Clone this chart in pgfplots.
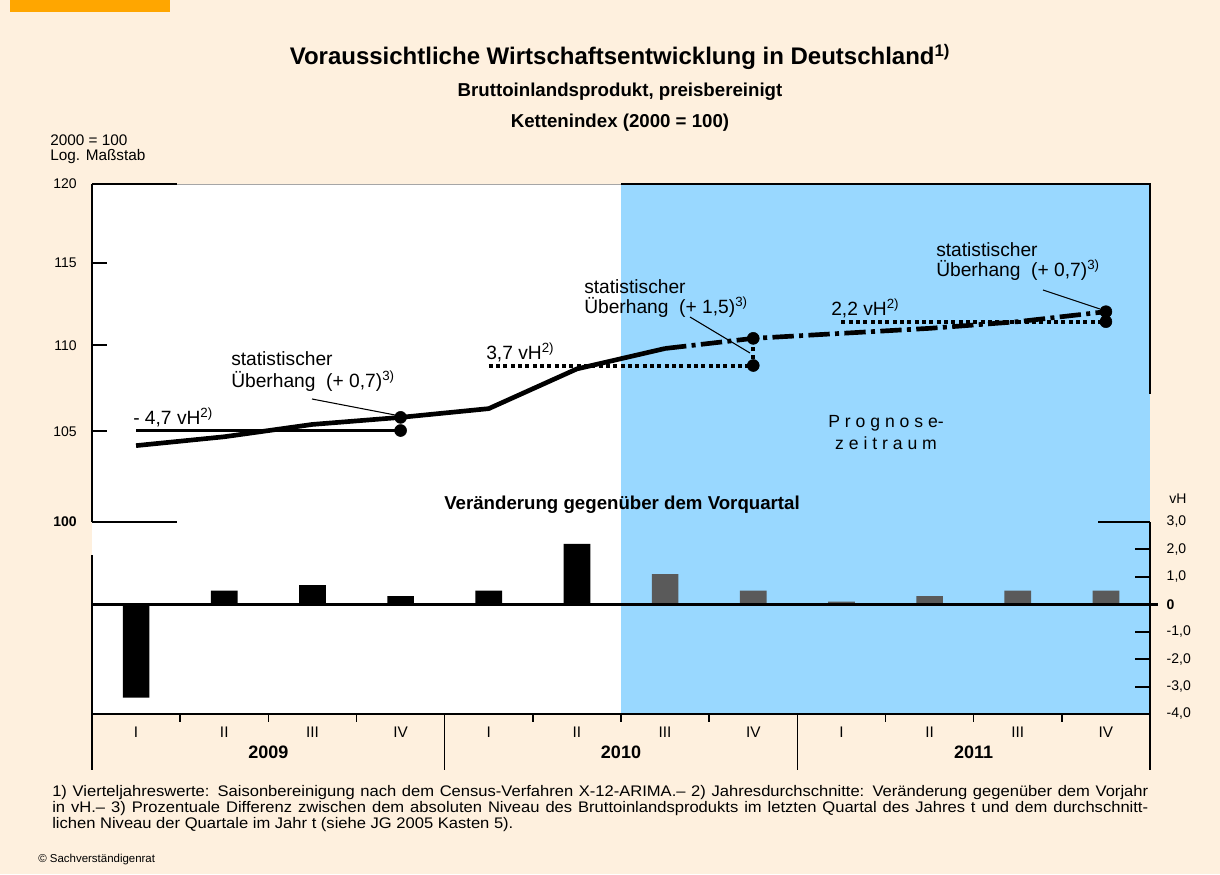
\documentclass[border=0pt]{standalone}
\usepackage{fontspec}
\setmainfont{Liberation Sans}
\newfontfamily\footfont{Liberation Sans}[FakeStretch=1.08]
\usepackage{pgfplots}
\pgfplotsset{compat=1.18}

\definecolor{cream}{RGB}{254,240,222}
\definecolor{orangetab}{RGB}{255,166,0}
\definecolor{progblue}{RGB}{153,216,255}
\definecolor{bargray}{RGB}{90,90,90}

\newcommand{\fsz}[2]{\fontsize{#1pt}{#2pt}\selectfont}

\begin{document}
\begin{tikzpicture}
% page and panels (1 unit = 1 px of the reference = 0.75pt, y upwards)
\begin{scope}[x=0.75pt,y=0.75pt]
\fill[cream] (0,0) rectangle (1220,874);
\fill[orangetab] (10,862) rectangle (170,874);
\fill[white] (92,160) rectangle (621,690);
\fill[progblue] (621,160) rectangle (1150,690);
\draw[gray!70, line width=0.6pt] (177,690) -- (621,690);
\draw[line width=1.5pt] (621,690) -- (1150,690) -- (1150,480);
\draw[line width=1.5pt] (92,160) -- (92,319);

% titles
\node[font=\fsz{18}{21}\bfseries] at (620,817) {Voraussichtliche Wirtschaftsentwicklung in Deutschland\textsuperscript{1)}};
\node[font=\fsz{14}{16}\bfseries] at (620,782) {Bruttoinlandsprodukt, preisbereinigt};
\node[font=\fsz{14}{16}\bfseries] at (620,751) {Kettenindex (2000 = 100)};
\node[font=\fsz{11.5}{13}, anchor=west, inner sep=0] at (50,734) {2000 = 100};
\node[font=\fsz{11.5}{13}, anchor=west, inner sep=0] at (50,717) {Log. Maßstab};
\end{scope}

% upper panel: chain index, log scale (via coordinate transformation)
\begin{axis}[
    at={(69pt,264pt)}, anchor=south west,
    width=793.5pt, height=253.5pt, scale only axis,
    xmin=-0.5, xmax=11.5,
    y coord trafo/.code={\pgfmathparse{ln(#1)}},
    y coord inv trafo/.code={\pgfmathparse{exp(#1)}},
    ymin=100, ymax=120,
    axis x line*=bottom, axis y line*=left,
    x axis line style={draw=none}, xtick=\empty,
    y axis line style={line width=1.5pt},
    ytick={105,110,115}, yticklabels={105,110,115},
    extra y ticks={100,120}, extra y tick labels={\textbf{100},120},
    extra y tick style={major tick length=63.75pt},
    tick align=inside, major tick length=11.25pt,
    tick style={black, line width=1.5pt},
    yticklabel style={font=\fsz{10.5}{12}, xshift=-8pt},
    clip=false,
]
\addplot[black, line width=3.5pt, line join=round] coordinates {
    (0,104.2) (1,104.7) (2,105.4) (3,105.8) (4,106.3) (5,108.6) (6,109.8)};
\addplot[black, line width=3.5pt, dash pattern=on 16pt off 4pt on 3pt off 4pt] coordinates {
    (6,109.8) (7,110.4) (8,110.7) (9,111.0) (10,111.4) (11,112.0)};
% annual averages
\addplot[black, line width=2.25pt] coordinates {(0,105.05) (3,105.05)};
\addplot[black, line width=3pt, dash pattern=on 3pt off 2.5pt] coordinates {(4,108.8) (7,108.8) (7,110.4)};
\addplot[black, line width=3pt, dash pattern=on 3pt off 2.5pt] coordinates {(8,111.4) (11,111.4)};
\addplot[only marks, mark=*, mark size=4.5pt, black] coordinates {
    (3,105.05) (3,105.8) (7,108.8) (7,110.4) (11,111.4) (11,112.0)};
\end{axis}

% lower panel: change on previous quarter
\begin{axis}[
    at={(69pt,120pt)}, anchor=south west,
    width=793.5pt, height=144pt, scale only axis,
    xmin=-0.5, xmax=11.5, ymin=-4, ymax=3,
    axis x line*=bottom, axis y line*=right,
    x axis line style={line width=2pt},
    y axis line style={line width=1.5pt},
    ybar, bar width=20pt, bar shift=0pt,
    xtick={0,...,11},
    xticklabels={I,II,III,IV,I,II,III,IV,I,II,III,IV},
    xtick style={draw=none},
    xticklabel style={font=\fsz{11.5}{13}, yshift=-6pt},
    ytick={-4,...,3},
    yticklabels={{-4,0},{-3,0},{-2,0},{-1,0},\textbf{0},{1,0},{2,0},{3,0}},
    tick align=inside, major tick length=11.25pt,
    tick style={black, line width=1.5pt},
    yticklabel style={font=\fsz{10.5}{12}, xshift=9pt},
    clip=false,
]
\addplot[fill=black, draw=none] coordinates {
    (0,-3.4) (1,0.5) (2,0.7) (3,0.3) (4,0.5) (5,2.2)};
\addplot[fill=bargray, draw=none] coordinates {
    (6,1.1) (7,0.5) (8,0.1) (9,0.3) (10,0.5) (11,0.5)};
\draw[line width=2pt] (axis cs:-0.5,0) -- (axis cs:11.5,0) -- ++(6pt,0pt);
\draw[line width=1.5pt] (axis cs:11.5,3) -- ++(-39pt,0pt);
\pgfplotsinvokeforeach{0.5,1.5,2.5,4.5,5.5,6.5,8.5,9.5,10.5}{
    \draw[line width=1.2pt] (axis cs:#1,-4) -- ++(0pt,-6pt);}
\pgfplotsinvokeforeach{-0.5,3.5,7.5,11.5}{
    \draw[line width=1.2pt] (axis cs:#1,-4) -- ++(0pt,-42pt);}
\node[font=\fsz{13.5}{15}\bfseries] at ([yshift=-28.5pt]axis cs:1.5,-4) {2009};
\node[font=\fsz{13.5}{15}\bfseries] at ([yshift=-28.5pt]axis cs:5.5,-4) {2010};
\node[font=\fsz{13.5}{15}\bfseries] at ([yshift=-28.5pt]axis cs:9.5,-4) {2011};
\end{axis}

% annotations
\begin{scope}[x=0.75pt,y=0.75pt]
\begin{scope}[every node/.style={font=\fsz{14.4}{17}, anchor=west, inner sep=0}]
\node at (133,457) {- 4,7 vH\textsuperscript{2)}};
\node at (231,515) {statistischer};
\node at (231,493) {Überhang~~(+ 0,7)\textsuperscript{3)}};
\node at (486,522) {3,7 vH\textsuperscript{2)}};
\node at (584,587) {statistischer};
\node at (584,567) {Überhang~~(+ 1,5)\textsuperscript{3)}};
\node at (831,566) {2,2 vH\textsuperscript{2)}};
\node at (936,624) {statistischer};
\node at (936,604) {Überhang~~(+ 0,7)\textsuperscript{3)}};
\end{scope}
\draw[line width=0.8pt] (312,475) -- (395,459);
\draw[line width=0.8pt] (690,557) -- (750,521);
\draw[line width=0.8pt] (1043,584) -- (1100,565);
\node[font=\fsz{13.2}{15}] at (886,451) {P r o g n o s e-};
\node[font=\fsz{13.2}{15}] at (886,431) {z e i t r a u m};
\node[font=\fsz{14}{16}\bfseries] at (622,369) {Veränderung gegenüber dem Vorquartal};
\node[font=\fsz{10.5}{12}] at (1178,375) {vH};

% footnotes
\node[anchor=north west, inner sep=0, text width=822pt, align=justify, font=\footfont\fsz{11.5}{12}] at (52,89) {\hyphenpenalty=10000\exhyphenpenalty=10000 1) Vierteljahreswerte: Saisonbereinigung nach dem Census-Verfahren X-12-ARIMA.– 2) Jahresdurchschnitte: Veränderung gegenüber dem Vorjahr\linebreak in vH.– 3) Prozentuale Differenz zwischen dem absoluten Niveau des Bruttoinlandsprodukts im letzten Quartal des Jahres t und dem durchschnitt-\linebreak lichen Niveau der Quartale im Jahr t (siehe JG 2005 Kasten 5).};
\node[anchor=west, inner sep=0, font=\fsz{8.6}{10}] at (38,14) {© Sachverständigenrat};
\end{scope}
\end{tikzpicture}
\end{document}
